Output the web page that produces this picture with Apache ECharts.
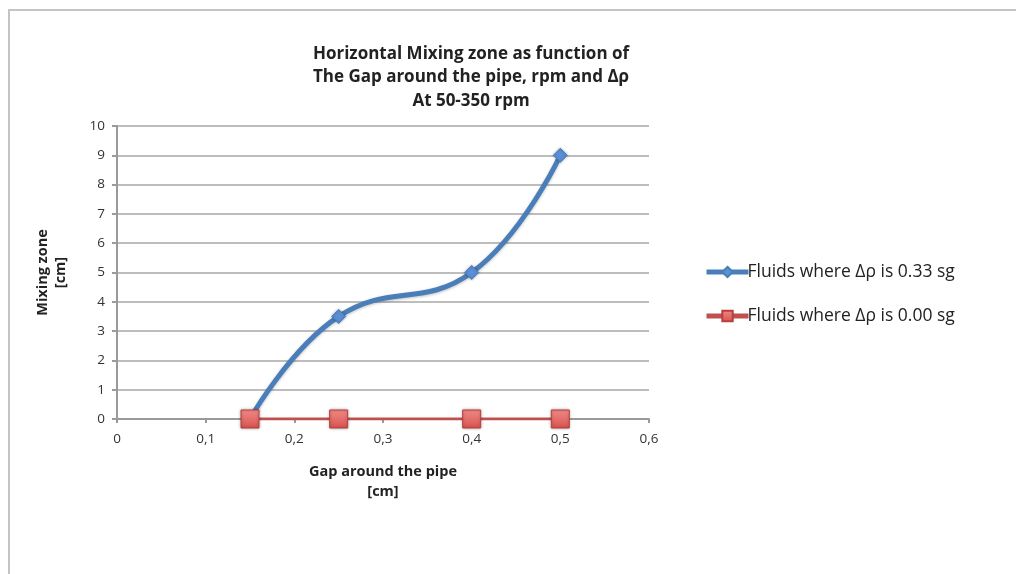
<!DOCTYPE html>
<html>
<head>
<meta charset="utf-8">
<script src="https://cdn.jsdelivr.net/npm/echarts@6/dist/echarts.min.js"></script>
<style>
  html, body { margin: 0; padding: 0; background: #fff; }
  #chart { width: 1016px; height: 574px; }
</style>
</head>
<body>
<div id="chart"></div>
<script>
// Gap around the pipe [cm]
const gaps = [0.15, 0.25, 0.4, 0.5];
// Mixing zone [cm] for each fluid pair
const mixingDelta033 = [0, 3.5, 5, 9];
const mixingDelta000 = [0, 0, 0, 0];
const seriesNames = ['Fluids where Δρ is 0.33 sg', 'Fluids where Δρ is 0.00 sg'];
const titleLines = ['Horizontal Mixing zone as function of', 'The Gap around the pipe, rpm and Δρ', 'At 50-350 rpm'];

const font = '"Open Sans", "Noto Sans", sans-serif';
const pairs = (xs, ys) => xs.map((x, i) => [x, ys[i]]);
const blue = '#4a7ebb';
const red = '#c0504d';

const chart = echarts.init(document.getElementById('chart'));
chart.setOption({
  animation: false,
  backgroundColor: '#fff',
  textStyle: { fontFamily: font },
  graphic: [{
    type: 'rect',
    shape: { x: 9, y: 10, width: 1100, height: 700 },
    style: { fill: 'none', stroke: '#c4c4c4', lineWidth: 2 },
    silent: true
  }],
  title: {
    text: titleLines.join('\n'),
    left: 466, top: 37, textAlign: 'center',
    textStyle: { fontFamily: font, fontWeight: 'bold', fontSize: 17, lineHeight: 23.5, color: '#222' }
  },
  grid: { left: 117, right: 367, top: 126, bottom: 155 },
  legend: {
    orient: 'vertical',
    left: 699, top: 258,
    itemGap: 26,
    itemWidth: 42, itemHeight: 13,
    textStyle: { fontFamily: font, fontSize: 17.5, color: '#222', padding: [0, 0, 0, -6] },
    data: [
      { name: seriesNames[0], lineStyle: { width: 5, color: blue } },
      { name: seriesNames[1], lineStyle: { width: 5, color: red } }
    ]
  },
  xAxis: {
    type: 'value', min: 0, max: 0.6, interval: 0.1,
    name: 'Gap around the pipe\n[cm]', nameLocation: 'middle', nameGap: 43,
    nameTextStyle: { fontFamily: font, fontWeight: 'bold', fontSize: 14.5, lineHeight: 20, color: '#222' },
    axisLine: { lineStyle: { color: '#9a9a9a', width: 2 } },
    axisTick: { show: true, length: 4, lineStyle: { color: '#9a9a9a', width: 2 } },
    axisLabel: { fontFamily: font, fontSize: 13.5, color: '#333', margin: 13,
      formatter: v => String(Math.round(v * 10) / 10).replace('.', ',') },
    splitLine: { show: false }
  },
  yAxis: {
    type: 'value', min: 0, max: 10, interval: 1,
    name: 'Mixing zone\n[cm]', nameLocation: 'middle', nameGap: 47, nameRotate: 90,
    nameTextStyle: { fontFamily: font, fontWeight: 'bold', fontSize: 14.5, lineHeight: 18, color: '#222' },
    axisLine: { show: true, lineStyle: { color: '#9a9a9a', width: 2 } },
    axisTick: { show: true, length: 5, lineStyle: { color: '#9a9a9a', width: 2 } },
    axisLabel: { fontFamily: font, fontSize: 13.5, color: '#333', margin: 12 },
    splitLine: { lineStyle: { color: '#bdbdbd', width: 2 } }
  },
  series: [
    {
      name: seriesNames[0], type: 'line', smooth: 0.45,
      data: pairs(gaps, mixingDelta033),
      symbol: 'diamond', symbolSize: 14,
      lineStyle: { color: blue, width: 5, shadowColor: 'rgba(0,0,0,0.25)', shadowBlur: 3, shadowOffsetY: 1 },
      itemStyle: { color: '#5b8fd6', borderColor: blue, borderWidth: 1, shadowColor: 'rgba(0,0,0,0.3)', shadowBlur: 3 },
      z: 3
    },
    {
      name: seriesNames[1], type: 'line',
      data: pairs(gaps, mixingDelta000),
      symbol: 'rect', symbolSize: 18,
      lineStyle: { color: red, width: 3 },
      itemStyle: {
        color: new echarts.graphic.LinearGradient(0, 0, 0, 1, [
          { offset: 0, color: '#f08a87' }, { offset: 1, color: '#d9524e' }
        ]),
        borderColor: '#b7403d', borderWidth: 1,
        shadowColor: 'rgba(0,0,0,0.3)', shadowBlur: 3
      },
      z: 4
    }
  ]
});
</script>
</body>
</html>
